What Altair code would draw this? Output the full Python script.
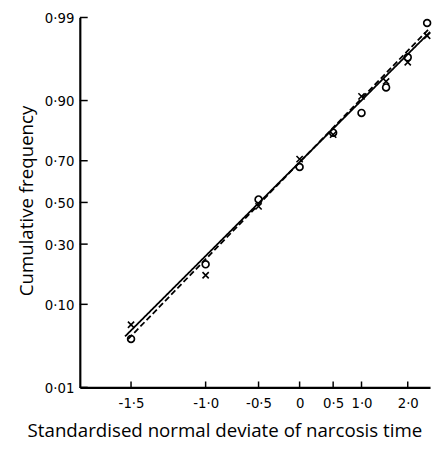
import altair as alt
import pandas as pd
from statistics import NormalDist

nd = NormalDist()

# ---- data ----
deviates = [-1.5, -1.0, -0.5, 0.0, 0.5, 1.0, 1.5, 2.0, 2.5]
circle_freq = [0.043, 0.218, 0.515, 0.672, 0.81, 0.87, 0.926, 0.966, 0.988]
cross_freq = [0.062, 0.18, 0.48, 0.707, 0.803, 0.909, 0.936, 0.961, 0.982]

solid_dev = [-1.532, 2.58]
solid_freq = [0.046, 0.984]
dashed_dev = [-1.516, 2.58]
dashed_freq = [0.0427, 0.986]

x_ticks = [-1.5, -1.0, -0.5, 0.0, 0.5, 1.0, 2.0]
y_ticks = [0.01, 0.10, 0.30, 0.50, 0.70, 0.90, 0.99]

SHIFT = 2.5  # the deviate axis is drawn on a log(deviate + 2.5) scale
X_DOMAIN = [0.757, 5.08]
Y_DOMAIN = [nd.inv_cdf(0.01), nd.inv_cdf(0.99)]

W, H = 356, 376

pts = pd.DataFrame(
    {"v": deviates * 2,
     "p": circle_freq + cross_freq,
     "g": ["o"] * len(deviates) + ["x"] * len(deviates)}
)
lines = pd.DataFrame(
    {"v": solid_dev + dashed_dev,
     "p": solid_freq + dashed_freq,
     "g": ["solid"] * 2 + ["dashed"] * 2}
)
xt = pd.DataFrame({"v": x_ticks})
yt = pd.DataFrame({"p": y_ticks})

xlab = ("abs(datum.value - 2.5) < 0.001 ? '0' : "
        "replace(replace(format(datum.value - 2.5, '.1f'), '.', '·'), '\u2212', '-')")
ylab = "replace(format(cumulativeNormal(datum.value), '.2f'), '.', '·')"

X = alt.X(
    "u:Q",
    scale=alt.Scale(type="log", domain=X_DOMAIN, nice=False),
    axis=alt.Axis(
        values=[v + SHIFT for v in x_ticks], labelExpr=xlab, ticks=False, grid=False,
        title="Standardised normal deviate of narcosis time",
        titleX=147, titleY=50, titleAlign="center", titleBaseline="alphabetic",
        labelPadding=8,
    ),
)
Y = alt.Y(
    "z:Q",
    scale=alt.Scale(domain=Y_DOMAIN, nice=False, zero=False),
    axis=alt.Axis(
        values=[nd.inv_cdf(p) for p in y_ticks], labelExpr=ylab, ticks=False, grid=False,
        title="Cumulative frequency",
        titleX=-54, titleY=186, titleAngle=270, titleAlign="center", titleBaseline="middle",
        labelPadding=6,
    ),
)

calc = dict(u="datum.v + 2.5", z="quantileNormal(datum.p)")

line_layer = alt.Chart(lines).transform_calculate(**calc).mark_line(
    color="black", strokeWidth=1.8
).encode(
    x=X, y=Y, detail="g:N",
    strokeDash=alt.StrokeDash(
        "g:N",
        scale=alt.Scale(domain=["solid", "dashed"], range=[[1, 0], [6, 3]]),
        legend=None,
    ),
)

circ = alt.Chart(pts).transform_filter("datum.g == 'o'").transform_calculate(**calc).mark_point(
    shape="circle", filled=False, color="black", size=48, strokeWidth=1.7, opacity=1
).encode(x=X, y=Y)

cross = alt.Chart(pts).transform_filter("datum.g == 'x'").transform_calculate(**calc).mark_point(
    shape="M-1,-1L1,1M-1,1L1,-1", filled=False, color="black", size=40, strokeWidth=1.6, opacity=1
).encode(x=X, y=Y)

ytick = alt.Chart(yt).transform_calculate(z="quantileNormal(datum.p)").mark_rule(
    color="black", strokeWidth=1.5
).encode(y=Y, x=alt.value(0), x2=alt.value(8))

xtick = alt.Chart(xt).transform_calculate(u="datum.v + 2.5").mark_rule(
    color="black", strokeWidth=1.5
).encode(x=X, y=alt.value(H), y2=alt.value(H - 6))

chart = alt.layer(line_layer, ytick, xtick, circ, cross).properties(
    width=W, height=H,
    autosize=alt.AutoSizeParams(type="none"),
    padding={"left": 73, "top": 6, "right": 3, "bottom": 60},
).configure_view(stroke=None).configure_axis(
    domainColor="black", domainWidth=2.2,
    labelColor="black", labelFontSize=15,
    labelFont="Liberation Sans Narrow, DejaVu Sans Condensed, Liberation Sans",
    titleColor="black", titleFontSize=19, titleFontWeight="normal",
    titleFont="Open Sans",
)

chart.save("out.html", embed_options={"renderer": "svg", "actions": False})
